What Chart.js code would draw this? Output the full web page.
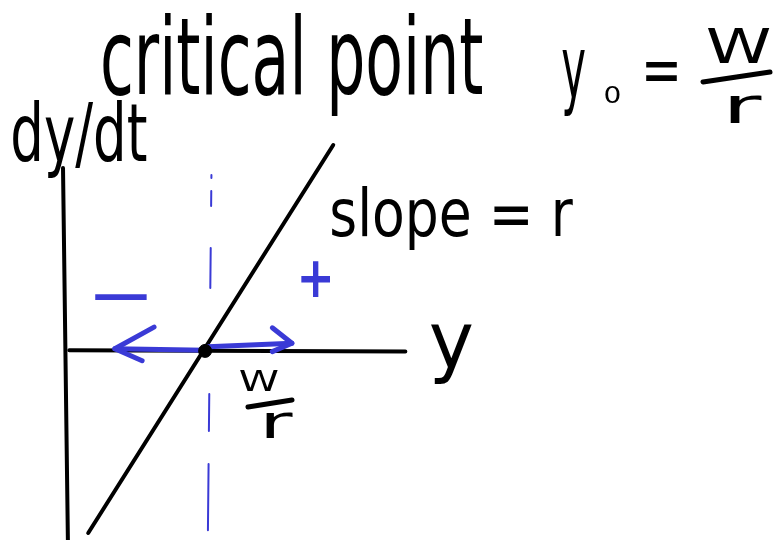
<!DOCTYPE html>
<html>
<head>
<meta charset="utf-8">
<script src="https://cdn.jsdelivr.net/npm/chart.js@4.4.1/dist/chart.umd.min.js"></script>
<style>
  html, body { margin: 0; padding: 0; background: #fff; }
  #wrap { width: 775px; height: 540px; }
</style>
</head>
<body>
<div id="wrap"><canvas id="sketch"></canvas></div>
<script>
// sketch data, in y / dy/dt units (critical point y0 = W/r = 2, slope r ~ 1.58)
const criticalPoint = [{x: 2, y: 0}];
const dydtAxis = [{x: -0.03, y: 2.61}, {x: 0.04, y: -2.72}];
const yAxis = [{x: 0.06, y: 0.01}, {x: 4.86, y: -0.01}];
const rateLine = [{x: 0.33, y: -2.6}, {x: 3.83, y: 2.94}];
const criticalMarker = [{x: 2.09, y: 2.51}, {x: 2.04, y: -2.56}];
const leftShaft = [{x: 0.71, y: 0.03}, {x: 2.0, y: 0.01}];
const leftHead = [{x: 1.27, y: 0.34}, {x: 0.71, y: 0.03}, {x: 1.1, y: -0.14}];
const rightShaft = [{x: 2.04, y: 0.06}, {x: 3.24, y: 0.11}];
const rightHead = [{x: 2.96, y: 0.33}, {x: 3.24, y: 0.11}, {x: 2.96, y: -0.01}];

const black = '#000000';
const blue = '#3a3ad6';

function lineSet(data, color, width, extra) {
    return Object.assign({
        data: data,
        showLine: true,
        borderColor: color,
        borderWidth: width,
        pointRadius: 0,
        borderCapStyle: 'round',
        borderJoinStyle: 'round',
        fill: false
    }, extra || {});
}

// text boxes: [text, left, top, right, bottom, weight, color]
const labels = [
    ['critical point', 103, 12, 483, 117, 'normal', black],
    ['dy/dt', 13, 100, 147, 178, 'normal', black],
    ['slope = r', 332, 185, 573, 250, 'normal', black],
    ['y', 430, 325, 472, 385, 'normal', black],
    ['y', 562, 50, 585, 117, 'normal', black],
    ['0', 605, 85, 620, 103, 'normal', black],
    ['=', 646, 63, 677, 82, 'normal', black],
    ['W', 708, 27, 770, 63, 'normal', black],
    ['r', 730, 95, 762, 123, 'normal', black],
    ['W', 240, 370, 278, 391, 'normal', black],
    ['r', 266, 412, 293, 438, 'normal', black],
    ['\u2212', 95, 293, 147, 300, 'normal', blue],
    ['+', 301, 260, 330, 297, 'bold', blue]
];
const fractionBars = [[703, 82, 770, 72], [248, 407, 292, 400]];

const sketchText = {
    id: 'sketchText',
    afterDatasetsDraw(chart) {
        const ctx = chart.ctx;
        labels.forEach(([text, x0, y0, x1, y1, weight, color]) => {
            ctx.save();
            ctx.font = weight + ' 60px "DejaVu Sans"';
            ctx.fillStyle = color;
            const m = ctx.measureText(text);
            const w = m.actualBoundingBoxLeft + m.actualBoundingBoxRight;
            const h = m.actualBoundingBoxAscent + m.actualBoundingBoxDescent;
            ctx.translate(x0, y0);
            ctx.scale((x1 - x0) / w, (y1 - y0) / h);
            ctx.fillText(text, m.actualBoundingBoxLeft, m.actualBoundingBoxAscent);
            ctx.restore();
        });
        ctx.save();
        ctx.strokeStyle = black;
        ctx.lineWidth = 5;
        ctx.lineCap = 'round';
        fractionBars.forEach(([ax, ay, bx, by]) => {
            ctx.beginPath();
            ctx.moveTo(ax, ay);
            ctx.lineTo(bx, by);
            ctx.stroke();
        });
        ctx.restore();
    }
};

new Chart(document.getElementById('sketch'), {
    type: 'scatter',
    data: {
        datasets: [
            {data: criticalPoint, pointRadius: 6.5, pointBackgroundColor: black, pointBorderColor: black, pointBorderWidth: 1},
            lineSet(leftHead, blue, 5),
            lineSet(leftShaft, blue, 5),
            lineSet(rightHead, blue, 5),
            lineSet(rightShaft, blue, 5),
            lineSet(rateLine, black, 4),
            lineSet(yAxis, black, 4),
            lineSet(dydtAxis, black, 4),
            lineSet(criticalMarker, blue, 2, {borderDash: [3, 13, 15, 42, 40, 106, 37, 33, 70]})
        ]
    },
    options: {
        responsive: true,
        maintainAspectRatio: false,
        animation: false,
        layout: {padding: 0, autoPadding: false},
        plugins: {legend: {display: false}, tooltip: {enabled: false}},
        scales: {
            x: {type: 'linear', display: false, min: -0.93, max: 10.14},
            y: {type: 'linear', display: false, min: -2.7, max: 5.01}
        }
    },
    plugins: [sketchText]
});
</script>
</body>
</html>
